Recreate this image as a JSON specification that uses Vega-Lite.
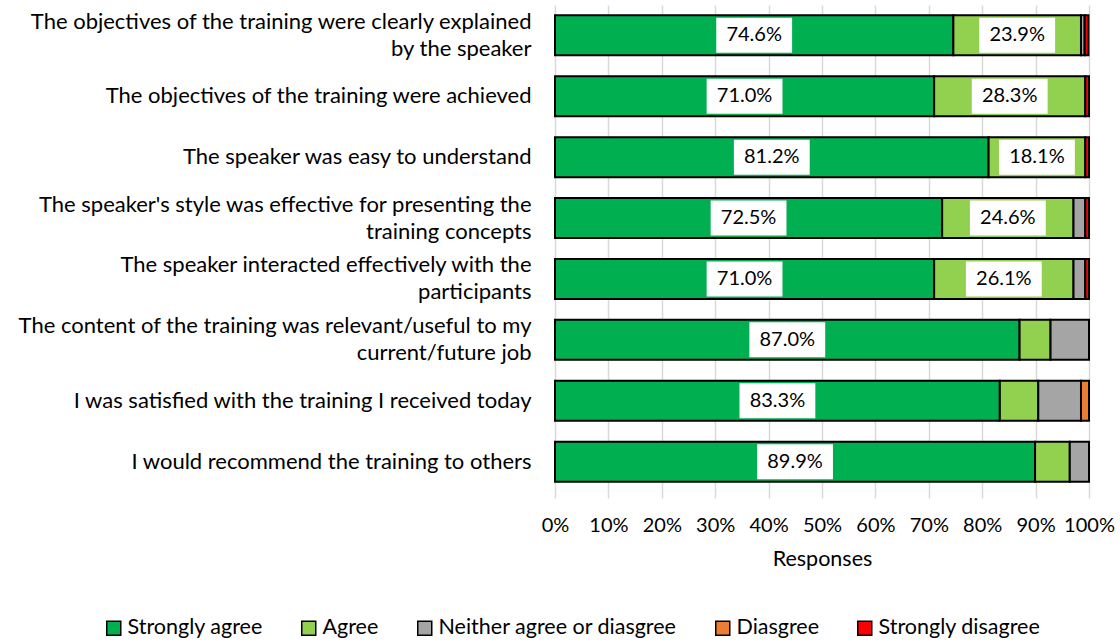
{
  "$schema": "https://vega.github.io/schema/vega-lite/v6.json",
  "autosize": {"type": "none"},
  "width": 534,
  "height": 487,
  "padding": {"left": 555, "top": 5, "right": 31, "bottom": 151},
  "background": "white",
  "config": {
    "font": "Lato",
    "view": {"stroke": null},
    "axis": {"labelFont": "Lato", "titleFont": "Lato", "labelColor": "#000000", "titleColor": "#000000"}
  },
  "data": {
    "values": [
      {"q": "The objectives of the training were clearly explained|by the speaker", "qi": 1, "cat": "Strongly agree", "k": 1, "v": 74.6},
      {"q": "The objectives of the training were clearly explained|by the speaker", "qi": 1, "cat": "Agree", "k": 2, "v": 23.9},
      {"q": "The objectives of the training were clearly explained|by the speaker", "qi": 1, "cat": "Neither agree or diasgree", "k": 3, "v": 0.7},
      {"q": "The objectives of the training were clearly explained|by the speaker", "qi": 1, "cat": "Diasgree", "k": 4, "v": 0},
      {"q": "The objectives of the training were clearly explained|by the speaker", "qi": 1, "cat": "Strongly disagree", "k": 5, "v": 0.7},
      {"q": "The objectives of the training were achieved", "qi": 2, "cat": "Strongly agree", "k": 1, "v": 71.0},
      {"q": "The objectives of the training were achieved", "qi": 2, "cat": "Agree", "k": 2, "v": 28.3},
      {"q": "The objectives of the training were achieved", "qi": 2, "cat": "Strongly disagree", "k": 5, "v": 0.7},
      {"q": "The speaker was easy to understand", "qi": 3, "cat": "Strongly agree", "k": 1, "v": 81.2},
      {"q": "The speaker was easy to understand", "qi": 3, "cat": "Agree", "k": 2, "v": 18.1},
      {"q": "The speaker was easy to understand", "qi": 3, "cat": "Strongly disagree", "k": 5, "v": 0.7},
      {"q": "The speaker's style was effective for presenting the|training concepts", "qi": 4, "cat": "Strongly agree", "k": 1, "v": 72.5},
      {"q": "The speaker's style was effective for presenting the|training concepts", "qi": 4, "cat": "Agree", "k": 2, "v": 24.6},
      {"q": "The speaker's style was effective for presenting the|training concepts", "qi": 4, "cat": "Neither agree or diasgree", "k": 3, "v": 2.2},
      {"q": "The speaker's style was effective for presenting the|training concepts", "qi": 4, "cat": "Strongly disagree", "k": 5, "v": 0.7},
      {"q": "The speaker interacted effectively with the|participants", "qi": 5, "cat": "Strongly agree", "k": 1, "v": 71.0},
      {"q": "The speaker interacted effectively with the|participants", "qi": 5, "cat": "Agree", "k": 2, "v": 26.1},
      {"q": "The speaker interacted effectively with the|participants", "qi": 5, "cat": "Neither agree or diasgree", "k": 3, "v": 2.2},
      {"q": "The speaker interacted effectively with the|participants", "qi": 5, "cat": "Strongly disagree", "k": 5, "v": 0.7},
      {"q": "The content of the training was relevant/useful to my|current/future job", "qi": 6, "cat": "Strongly agree", "k": 1, "v": 87.0},
      {"q": "The content of the training was relevant/useful to my|current/future job", "qi": 6, "cat": "Agree", "k": 2, "v": 5.8},
      {"q": "The content of the training was relevant/useful to my|current/future job", "qi": 6, "cat": "Neither agree or diasgree", "k": 3, "v": 7.2},
      {"q": "I was satisfied with the training I received today", "qi": 7, "cat": "Strongly agree", "k": 1, "v": 83.3},
      {"q": "I was satisfied with the training I received today", "qi": 7, "cat": "Agree", "k": 2, "v": 7.2},
      {"q": "I was satisfied with the training I received today", "qi": 7, "cat": "Neither agree or diasgree", "k": 3, "v": 8.0},
      {"q": "I was satisfied with the training I received today", "qi": 7, "cat": "Diasgree", "k": 4, "v": 1.5},
      {"q": "I would recommend the training to others", "qi": 8, "cat": "Strongly agree", "k": 1, "v": 89.9},
      {"q": "I would recommend the training to others", "qi": 8, "cat": "Agree", "k": 2, "v": 6.5},
      {"q": "I would recommend the training to others", "qi": 8, "cat": "Neither agree or diasgree", "k": 3, "v": 3.6}
    ]
  },
  "encoding": {
    "y": {
      "field": "q", "type": "nominal", "sort": {"field": "qi", "op": "min", "order": "ascending"},
      "title": null,
      "scale": {"paddingInner": 0.343, "paddingOuter": 0.17},
      "axis": {
        "labelExpr": "split(datum.label, '|')",
        "labelFontSize": 22, "labelLineHeight": 27, "labelPadding": 24, "ticks": false, "domain": false, "labelLimit": 700,
        "labelOffset": {"condition": {"test": "indexof(datum.value, '|') >= 0", "value": -13.5}, "value": 0}
      }
    }
  },
  "layer": [
    {
      "mark": {"type": "bar", "stroke": "#000000", "strokeWidth": 2},
      "encoding": {
        "x": {
          "field": "v", "type": "quantitative", "stack": "zero",
          "scale": {"domain": [0, 100], "nice": false},
          "title": "Responses",
          "axis": {"values": [0,10,20,30,40,50,60,70,80,90,100], "labelExpr": "datum.value + '%'", "labelFontSize": 20, "titleFontSize": 21.5, "titleFontWeight": "normal", "labelPadding": 17, "titlePadding": 13, "grid": true, "gridColor": "#D9D9D9", "gridWidth": 1.5, "domain": false, "tickColor": "#D9D9D9", "tickSize": 6, "tickWidth": 1.5, "labelFlush": false}
        },
        "color": {
          "field": "cat", "type": "nominal",
          "scale": {"domain": ["Strongly agree", "Agree", "Neither agree or diasgree", "Diasgree", "Strongly disagree"], "range": ["#00B050", "#92D050", "#A5A5A5", "#ED7D31", "#FF0000"]},
          "legend": {"title": null, "orient": "none", "legendX": -452, "legendY": 612, "direction": "horizontal", "columns": 5, "symbolType": "square", "symbolSize": 196, "symbolStrokeColor": "#000000", "symbolStrokeWidth": 1.5, "labelFontSize": 21.5, "labelFont": "Lato", "labelColor": "#000000", "labelLimit": 500, "columnPadding": 35, "symbolOffset": 0, "labelOffset": 3}
        },
        "order": {"field": "k", "type": "quantitative"}
      }
    },
    {
      "transform": [
        {"stack": "v", "groupby": ["q"], "sort": [{"field": "k", "order": "ascending"}], "as": ["s0", "s1"]},
        {"filter": "datum.k == 1 || (datum.k == 2 && datum.qi <= 5)"},
        {"calculate": "(datum.s0 + datum.s1) / 2", "as": "mid"},
        {"calculate": "datum.mid - 7.1", "as": "lo"},
        {"calculate": "datum.mid + 7.1", "as": "hi"},
        {"calculate": "format(datum.v, '.1f') + '%'", "as": "lab"}
      ],
      "layer": [
        {
          "mark": {"type": "bar", "color": "white", "height": 35},
          "encoding": {"x": {"field": "lo", "type": "quantitative"}, "x2": {"field": "hi"}}
        },
        {
          "mark": {"type": "text", "fontSize": 20, "font": "Lato", "color": "#000000"},
          "encoding": {"x": {"field": "mid", "type": "quantitative"}, "text": {"field": "lab"}}
        }
      ]
    }
  ]
}
